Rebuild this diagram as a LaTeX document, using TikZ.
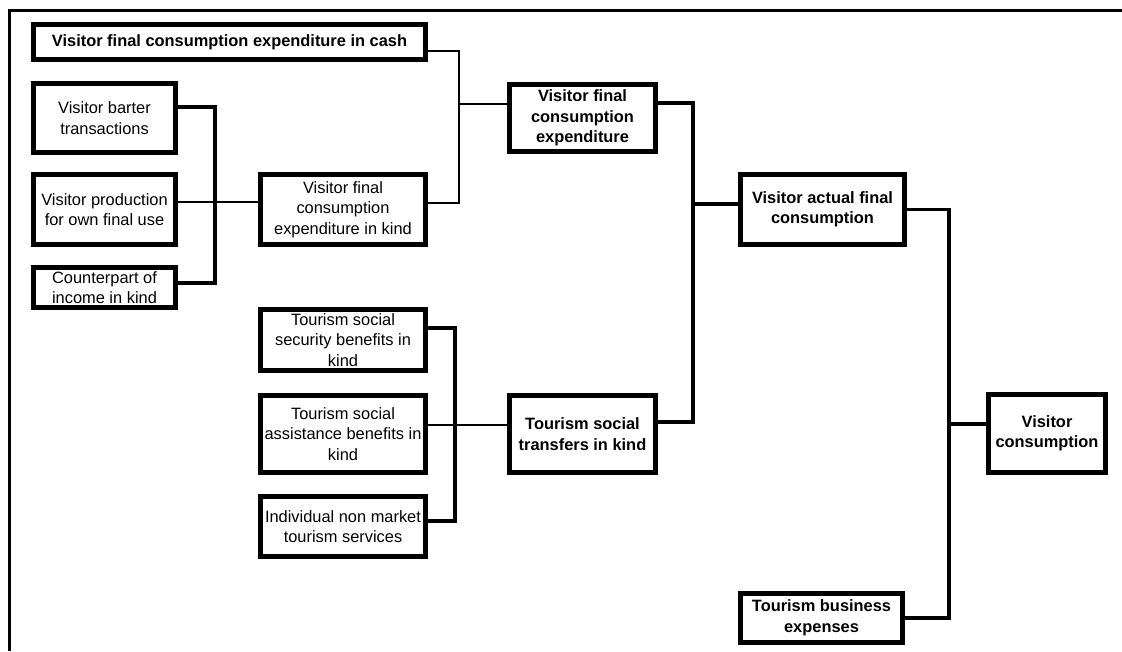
\documentclass[tikz,border=0pt]{standalone}
\usepackage{fontspec}
\setmainfont{Liberation Sans}
\usepackage{tikz}

\begin{document}
\begin{tikzpicture}[x = 1pt, y = -1pt,
    box/.style = {draw, line width = 4.2pt, align = center, inner sep = 0pt,
        font = \fontsize{16.4pt}{20.5pt}\selectfont},
    keybox/.style = {box, font = \fontsize{16.4pt}{20.5pt}\selectfont\bfseries},
    thickline/.style = {line width = 3.4pt},
    thinline/.style = {line width = 2pt}]
    \useasboundingbox (0, 0) rectangle (1122, 651);
    \draw [thickline] (9.5, 651) -- (9.5, 10.5) -- (1122, 10.5);

    % left column
    \node [keybox, minimum width = 392pt, minimum height = 35pt] (cash) at (229.5, 42) {Visitor final consumption expenditure in cash};
    \node [box, minimum width = 142pt, minimum height = 69pt] (barter) at (104.5, 118) {Visitor barter\\transactions};
    \node [box, minimum width = 142pt, minimum height = 70pt] (prod) at (104.5, 209.5) {Visitor production\\for own final use};
    \node [box, minimum width = 142pt, minimum height = 40pt] (counter) at (104.5, 287.5) {Counterpart of\\income in kind};

    % second column
    \node [box, minimum width = 165pt, minimum height = 70pt] (kind) at (343, 209.5) {Visitor final\\consumption\\expenditure in kind};
    \node [box, minimum width = 165pt, minimum height = 61pt] (security) at (343, 340) {Tourism social\\security benefits in\\kind};
    \node [box, minimum width = 165pt, minimum height = 77pt] (assist) at (343, 434) {Tourism social\\assistance benefits in\\kind};
    \node [box, minimum width = 165pt, minimum height = 60pt] (indiv) at (343, 526.5) {Individual non market\\tourism services};

    % third column
    \node [keybox, minimum width = 146pt, minimum height = 67pt] (vfce) at (582.5, 118) {Visitor final\\consumption\\expenditure};
    \node [keybox, minimum width = 146pt, minimum height = 77pt] (social) at (582.5, 434) {Tourism social\\transfers in kind};

    % right side
    \node [keybox, minimum width = 164pt, minimum height = 70pt] (actual) at (822.5, 209.5) {Visitor actual final\\consumption};
    \node [keybox, minimum width = 162pt, minimum height = 49pt] (business) at (821.5, 618) {Tourism business\\expenses};
    \node [keybox, minimum width = 117pt, minimum height = 78pt] (vc) at (1047, 433.5) {Visitor\\consumption};

    % junctions
    \coordinate (jA) at (215, 202);
    \coordinate (jB) at (459, 104);
    \coordinate (jC) at (455, 424.5);
    \coordinate (jD) at (693, 204);
    \coordinate (jE) at (949, 424);

    \draw [thickline] ([yshift = 11pt]barter.east) -| (jA) |- ([yshift = 4.5pt]counter.east);
    \draw [thinline] ([yshift = 7.5pt]prod.east) -- ([yshift = 7.5pt]kind.west);

    \draw [thinline] ([yshift = -9pt]cash.east) -| (jB) |- ([yshift = 6.5pt]kind.east);
    \draw [thinline] (jB) -- ([yshift = 14pt]vfce.west);

    \draw [thickline] ([yshift = 12pt]security.east) -| (jC) |- ([yshift = 5.5pt]indiv.east);
    \draw [thinline] ([yshift = 9.5pt]assist.east) -- ([yshift = 9.5pt]social.west);

    \draw [thickline] ([yshift = 15pt]vfce.east) -| (jD) |- ([yshift = 12pt]social.east);
    \draw [thickline] (jD) -- ([yshift = 5.5pt]actual.west);

    \draw [thickline] (actual.east) -| (jE) |- (business.east);
    \draw [thickline] (jE) -- ([yshift = 9.5pt]vc.west);
\end{tikzpicture}
\end{document}
